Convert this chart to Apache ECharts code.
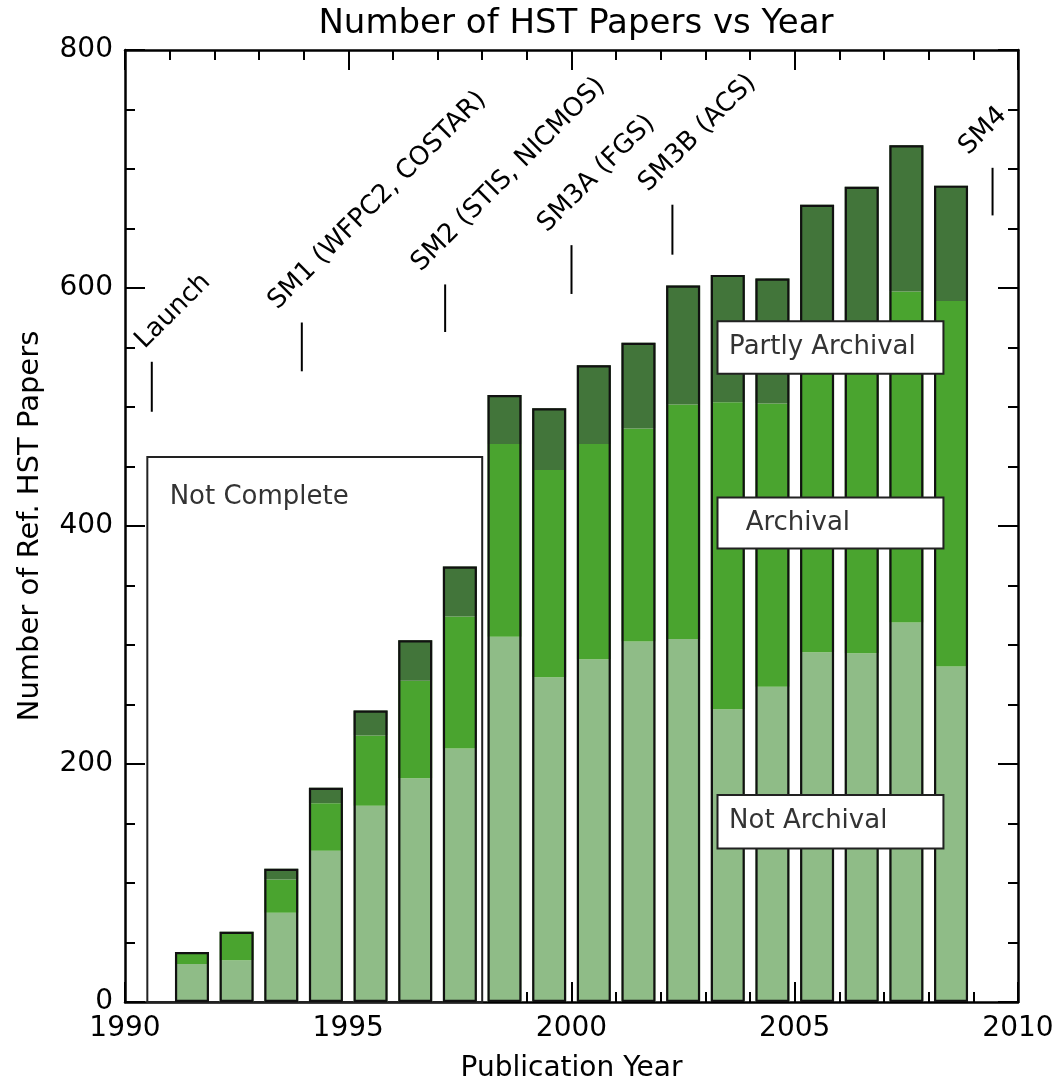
<!DOCTYPE html>
<html><head><meta charset="utf-8">
<script src="https://cdn.jsdelivr.net/npm/echarts@6/dist/echarts.min.js"></script>
<style>html,body{margin:0;padding:0;background:#fff}#c{width:1058px;height:1088px}</style>
</head><body><div id="c"></div>
<script>
// ---- data ----
const years = [1991,1992,1993,1994,1995,1996,1997,1998,1999,2000,2001,2002,2003,2004,2005,2006,2007,2008];
const notArchival    = [32, 35, 75,127,165,188,213,307,273,288,303,305,246,265,294,293,319,282];
const archival       = [ 9, 23, 28, 40, 59, 82,111,162,174,181,179,197,258,238,251,257,278,307];
const partlyArchival = [ 1,  1,  9, 13, 21, 34, 42, 41, 52, 66, 72,100,107,105,125,135,123, 97];

const eventNames = ['Launch','SM1 (WFPC2, COSTAR)','SM2 (STIS, NICMOS)','SM3A (FGS)','SM3B (ACS)','SM4'];
const eventYears = [1990.6, 1993.96, 1997.17, 2000.0, 2002.26, 2009.43];
const eventLow   = [496, 530, 563, 595, 628, 661];
const eventHigh  = [538, 571, 603, 636, 670, 701];

const boxNames = ['Not Complete','Partly Archival','Archival','Not Archival'];
const boxFrom  = [1990.5, 2003.27, 2003.27, 2003.27];
const boxTo    = [1998.0, 2008.33, 2008.33, 2008.33];
const boxLow   = [0, 528, 381, 129];
const boxHigh  = [458, 572, 424, 174];
const boxTextX = [1991.0, 2003.53, 2003.9, 2003.53];
const boxTextY = [424.5, 550, 402.5, 151.5];

const xTicks = {min:1990, max:2010, step:5};
const yTicks = {min:0, max:800, step:200};

// ---- build ----
const FONT = '"DejaVu Sans", sans-serif';
const slots = [];
for (let y = xTicks.min; y < xTicks.max; y++) slots.push(String(y));
const bySlot = vals => slots.map(s => { const i = years.indexOf(+s); return i < 0 ? '-' : vals[i]; });
const totals = years.map((y,i)=>notArchival[i]+archival[i]+partlyArchival[i]);
const BW = 34;

function barSeries(name, vals, color){
  return {name, type:'bar', stack:'papers', xAxisIndex:2, yAxisIndex:0, data:bySlot(vals), barWidth:BW, barGap:'-100%',
    itemStyle:{color, borderWidth:0}, z:2, silent:true};
}

const axisCommon = {
  axisLine:{show:true, onZero:false, lineStyle:{color:'#000', width:2.5}},
  axisTick:{show:true, inside:true, length:20, lineStyle:{color:'#000', width:2}},
  minorTick:{show:true, length:10, lineStyle:{color:'#000', width:2}},
  splitLine:{show:false}, minorSplitLine:{show:false}
};
const fmt = v => String(v);

const option = {
  animation:false,
  backgroundColor:'#fff',
  title:{text:'Number of HST Papers vs Year', left:571, top:2, textAlign:'center',
    textStyle:{fontFamily:FONT, fontSize:34, fontWeight:'normal', color:'#000'}},
  grid:{left:125, right:40, top:50, bottom:83, containLabel:false},
  xAxis:[
    Object.assign({type:'value', min:xTicks.min, max:xTicks.max, interval:xTicks.step, position:'bottom',
      name:'Publication Year', nameLocation:'middle', nameGap:53,
      nameTextStyle:{fontFamily:FONT, fontSize:28, color:'#000'},
      axisLabel:{fontFamily:FONT, fontSize:28, color:'#000', margin:13, formatter:fmt}}, axisCommon,
      {minorTick:Object.assign({}, axisCommon.minorTick, {splitNumber:5})}),
    Object.assign({type:'value', min:xTicks.min, max:xTicks.max, interval:xTicks.step, position:'top',
      axisLabel:{show:false}}, axisCommon,
      {minorTick:Object.assign({}, axisCommon.minorTick, {splitNumber:5})}),
    {type:'category', data:slots, boundaryGap:true, position:'bottom', show:false,
      axisLine:{show:false}, axisTick:{show:false}, axisLabel:{show:false}, splitLine:{show:false}}
  ],
  yAxis:[
    Object.assign({type:'value', min:yTicks.min, max:yTicks.max, interval:yTicks.step, position:'left',
      name:'Number of Ref. HST Papers', nameLocation:'middle', nameGap:80,
      nameTextStyle:{fontFamily:FONT, fontSize:29, color:'#000'},
      axisLabel:{fontFamily:FONT, fontSize:28, color:'#000', margin:12, formatter:fmt}}, axisCommon,
      {minorTick:Object.assign({}, axisCommon.minorTick, {splitNumber:4})}),
    Object.assign({type:'value', min:yTicks.min, max:yTicks.max, interval:yTicks.step, position:'right',
      axisLabel:{show:false}}, axisCommon,
      {minorTick:Object.assign({}, axisCommon.minorTick, {splitNumber:4})})
  ],
  series:[
    // "Not Complete" background box (below bars)
    {type:'custom', name:'notComplete', z:1, silent:true, xAxisIndex:0, yAxisIndex:0,
      data:[[boxFrom[0], boxTo[0], boxLow[0], boxHigh[0], boxTextX[0], boxTextY[0]]],
      renderItem:(params, api)=>boxItem(params, api, 0)},
    barSeries('Not Archival', notArchival, '#8fbc87'),
    barSeries('Archival', archival, '#4aa42f'),
    barSeries('Partly Archival', partlyArchival, '#42753a'),
    {name:'total', type:'bar', xAxisIndex:2, yAxisIndex:0, data:bySlot(totals), barWidth:BW, barGap:'-100%', z:3, silent:true,
      itemStyle:{color:'rgba(0,0,0,0)', borderColor:'#111', borderWidth:2.2}},
    // label boxes (on top)
    {type:'custom', name:'labels', z:6, silent:true, xAxisIndex:0, yAxisIndex:0,
      data:[1,2,3].map(i=>[boxFrom[i], boxTo[i], boxLow[i], boxHigh[i], boxTextX[i], boxTextY[i]]),
      renderItem:(params, api)=>boxItem(params, api, params.dataIndex+1)},
    // servicing mission events
    {type:'custom', name:'events', z:6, silent:true, xAxisIndex:0, yAxisIndex:0,
      data:eventYears.map((y,i)=>[y, eventLow[i], eventHigh[i]]),
      renderItem:(params, api)=>{
        const p0 = api.coord([api.value(0), api.value(1)]);
        const p1 = api.coord([api.value(0), api.value(2)]);
        const left = params.coordSys.x;
        return {type:'group', children:[
          {type:'line', shape:{x1:p0[0], y1:p0[1], x2:p1[0], y2:p1[1]}, style:{stroke:'#000', lineWidth:2}},
          {type:'text', x:Math.max(p1[0]-20, left+24), y:p1[1]-8, rotation:Math.PI/4,
            style:{text:eventNames[params.dataIndex], font:'26px ' + FONT, fill:'#000',
              textAlign:'left', textVerticalAlign:'bottom'}}
        ]};
      }}
  ]
};

function boxItem(params, api, idx){
  const a = api.coord([api.value(0), api.value(3)]);
  const b = api.coord([api.value(1), api.value(2)]);
  const t = api.coord([api.value(4), api.value(5)]);
  return {type:'group', children:[
    {type:'rect', shape:{x:a[0], y:a[1], width:b[0]-a[0], height:b[1]-a[1]},
      style:{fill:'#fff', stroke:'#222', lineWidth:2}},
    {type:'text', x:t[0], y:t[1],
      style:{text:boxNames[idx], font:'26px ' + FONT, fill:'#333', textAlign:'left', textVerticalAlign:'middle'}}
  ]};
}

const chart = echarts.init(document.getElementById('c'), null, {renderer:'canvas'});
chart.setOption(option);
</script>
</body></html>
